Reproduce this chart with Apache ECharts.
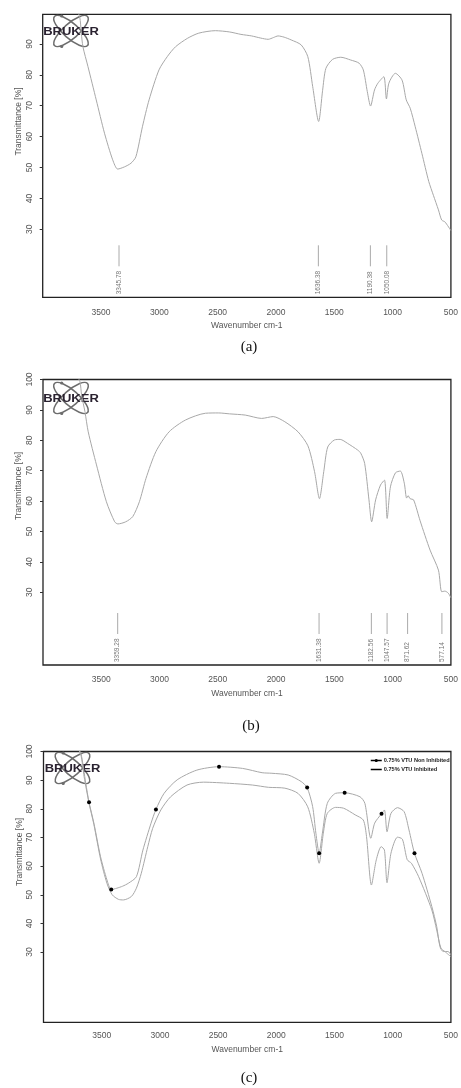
<!DOCTYPE html>
<html><head><meta charset="utf-8">
<script src="https://cdn.jsdelivr.net/npm/echarts@6/dist/echarts.min.js"></script>
<style>html,body{margin:0;padding:0;background:#fff}#c{width:461px;height:1088px}</style>
</head><body><div id="c"></div>
<script>
// ---- data ----
const xTickLabels = [3500, 3000, 2500, 2000, 1500, 1000, 500];
const yTickLabelsA = [30, 40, 50, 60, 70, 80, 90];
const yTickLabelsBC = [30, 40, 50, 60, 70, 80, 90, 100];

const spectrumA = [[3720,102],[3683,98.8],[3669,93.5],[3655,89.1],[3612,82.7],[3541,71.9],[3470,61.1],[3400,52.5],[3357,49.5],[3300,50.2],[3243,51.4],[3201,53.5],[3145,63.2],[3088,71.9],[3003,81.6],[2930,86],[2861,89.1],[2760,91.8],[2662,93.5],[2520,94.3],[2400,93.9],[2300,93.1],[2209,92.6],[2130,91.9],[2067,91.5],[2020,92.1],[1982,92.6],[1930,92.2],[1869,91.3],[1784,89.7],[1727,85.9],[1685,76.2],[1634,64.9],[1600,75],[1572,82.1],[1515,85],[1444,85.7],[1359,84.8],[1288,83.8],[1251,81.6],[1217,74.6],[1189,69.9],[1155,75.1],[1126,77.3],[1075,79.4],[1053,72.2],[1032,77.3],[976,80.5],[919,78.3],[883,71.9],[849,69.2],[806,63.2],[749,54.6],[690,45.5],[650,41],[607,36.3],[579,33],[551,32.4],[500,29.6]];

const spectrumB = [[3720,102],[3683,99.3],[3669,94.9],[3640,89.4],[3612,82.8],[3541,71.9],[3456,59.8],[3385,53.2],[3357,52.5],[3290,53.2],[3230,54.9],[3173,59.8],[3116,67.5],[3031,76.3],[2918,82.8],[2776,86.7],[2606,88.9],[2492,89.0],[2400,88.7],[2265,88.3],[2124,87.2],[2025,87.8],[1925,86.1],[1812,82.8],[1727,78.2],[1670,69.7],[1628,60.8],[1591,69.7],[1557,77.8],[1500,80.1],[1450,80.3],[1387,79],[1300,76.8],[1274,75.8],[1240,72.4],[1203,60.4],[1180,53.2],[1146,60.4],[1104,65.3],[1070,66.9],[1047,54.3],[1019,64.7],[976,69.3],[934,69.9],[900,65.9],[880,61],[868,61.8],[850,60.8],[820,60.4],[764,53.5],[679,43.9],[607,37.3],[579,30.2],[551,30.4],[522,29.7],[500,28.2]];

const peaksA = [3345.78, 1636.38, 1190.38, 1050.08];
const peaksB = [3359.28, 1631.38, 1182.56, 1047.57, 871.62, 577.14];

const nonInhibitedC = [[3720,102],[3679,99.4],[3637,88.9],[3609,82.3],[3567,75],[3510,63.3],[3455,55.2],[3418,51.8],[3370,52.3],[3320,53],[3272,54],[3202,56.3],[3146,65.6],[3076,75],[3034,79.8],[2964,85.4],[2852,90.1],[2683,93.5],[2492,94.7],[2290,94.1],[2122,92.6],[2038,92.4],[1898,91.8],[1786,89.5],[1735,87.4],[1688,80.8],[1660,71.5],[1632,64.5],[1604,71.5],[1562,81.9],[1491,85.4],[1413,85.6],[1281,84.2],[1239,81.9],[1188,69.7],[1155,75],[1096,78.3],[1071,79.6],[1049,72],[1015,78.4],[959,80.4],[902,79],[860,72.6],[813,64.5],[748,57.5],[664,45.9],[622,38.9],[594,31.9],[566,30.2],[524,30.2],[500,29]];

const inhibitedC = [[3720,102],[3680,99],[3651,91.2],[3609,82],[3567,74.5],[3510,62.5],[3455,54],[3410,50],[3356,48.4],[3314,48.2],[3245,49.4],[3202,52.3],[3160,57.5],[3104,66.8],[3062,73.2],[2992,79.6],[2908,84.2],[2767,88.3],[2627,89.3],[2403,88.9],[2206,88.3],[2067,87.5],[1926,87.2],[1814,85.4],[1730,80.7],[1674,71.5],[1632,61],[1596,71.5],[1562,78.4],[1491,80.5],[1421,80.2],[1323,77.9],[1253,76.1],[1225,70.3],[1183,53.4],[1141,62.2],[1099,66.8],[1071,65.6],[1049,54.2],[1015,64.5],[959,70.1],[917,69.4],[875,62.2],[839,61],[777,56.3],[664,44.7],[622,37.7],[586,31.4],[552,30.2],[500,28.4]];

const markerWavenumbersC = [3609, 3418, 3034, 2492, 1735, 1632, 1413, 1096, 813];
const legendNames = ['0.75% VTU Non Inhibited', '0.75% VTU Inhibited'];
const captions = ['(a)', '(b)', '(c)'];
const xName = 'Wavenumber cm-1';
const yName = 'Transmittance [%]';

// ---- layout ----
const SANS = 'Liberation Sans, Arial, sans-serif';
const grids = [
  {left: 42.7, top: 14.3, width: 412.3, height: 283},
  {left: 43, top: 379.5, width: 412.3, height: 285.5},
  {left: 43.5, top: 751.5, width: 416, height: 270.8}
];
const yRanges = [[8, 99.6], [6.1, 100], [5.5, 100]];
const yTicks = [yTickLabelsA, yTickLabelsBC, yTickLabelsBC];
const xLabelMargin = [11, 10.5, 9];
const xNameGap = [24, 24.5, 22.5];

const xAxes = grids.map((g, i) => ({
  type: 'value', gridIndex: i, min: 500, max: 4000, interval: 500, inverse: true,
  axisLine: {show: false}, axisTick: {show: false}, splitLine: {show: false},
  axisLabel: {margin: xLabelMargin[i], fontSize: 8.5, color: '#555', fontFamily: SANS,
    formatter: v => (xTickLabels.indexOf(v) >= 0 ? String(v) : '')},
  name: xName, nameLocation: 'middle', nameGap: xNameGap[i],
  nameTextStyle: {fontSize: 8.5, color: '#555', fontFamily: SANS}
}));
const yAxes = grids.map((g, i) => ({
  type: 'value', gridIndex: i, min: yRanges[i][0], max: yRanges[i][1],
  axisLine: {show: false}, splitLine: {show: false},
  axisTick: {show: true, length: 3, customValues: yTicks[i], lineStyle: {color: '#333'}},
  axisLabel: {customValues: yTicks[i], rotate: 90, margin: 9, fontSize: 8.5, color: '#555', fontFamily: SANS}
}));

function peakRender(params, api) {
  const wn = api.value(0);
  const p = api.coord([wn, 50]);
  const cs = params.coordSys;
  const bottom = cs.y + cs.height;
  return {type: 'group', children: [
    {type: 'line', shape: {x1: p[0], y1: bottom - 52, x2: p[0], y2: bottom - 31}, style: {stroke: '#aaa', lineWidth: 1}},
    {type: 'text', x: p[0], y: bottom - 3, rotation: Math.PI / 2,
      style: {text: wn.toFixed(2), fontSize: 6.5, fontFamily: SANS, fill: '#777', align: 'left', verticalAlign: 'middle'}}
  ]};
}

function logo(cx, cy) {
  return {type: 'group', x: cx, y: cy, z: 100, silent: true, children: [
    {type: 'ellipse', shape: {cx: 0, cy: 0, rx: 22, ry: 7.5}, rotation: 0.72, style: {fill: 'none', stroke: '#6d6d6d', lineWidth: 1.5}},
    {type: 'ellipse', shape: {cx: 0, cy: 0, rx: 22, ry: 7.5}, rotation: -0.72, style: {fill: 'none', stroke: '#6d6d6d', lineWidth: 1.5}},
    {type: 'circle', shape: {cx: -9.3, cy: -15, r: 1.6}, style: {fill: '#6d6d6d'}},
    {type: 'circle', shape: {cx: -9.3, cy: 15.5, r: 1.6}, style: {fill: '#6d6d6d'}},
    {type: 'text', x: 0, y: 1, scaleX: 1.3, style: {text: 'BRUKER', font: 'bold 10px ' + SANS, fill: '#2a2230', align: 'center', verticalAlign: 'middle'}}
  ]};
}
function caption(txt, x, y) {
  return {type: 'text', x: x, y: y, style: {text: txt, font: '15px Liberation Serif, Times New Roman, serif', fill: '#111', align: 'center', verticalAlign: 'middle'}};
}
function yTitle(x, y) {
  return {type: 'text', x: x, y: y, rotation: Math.PI / 2, style: {text: yName, font: '8.5px ' + SANS, fill: '#555', align: 'center', verticalAlign: 'middle'}};
}

const curveStyle = {color: '#a8a8a8', width: 1};
const chart = echarts.init(document.getElementById('c'), null, {renderer: 'canvas'});
chart.setOption({
  animation: false,
  grid: grids.map(g => Object.assign({show: true, borderColor: '#222', borderWidth: 1.3, backgroundColor: 'transparent'}, g)),
  xAxis: xAxes,
  yAxis: yAxes,
  legend: {
    data: [
      {name: legendNames[0]},
      {name: legendNames[1], itemStyle: {color: 'rgba(0,0,0,0)', opacity: 0}}
    ],
    orient: 'vertical', left: 370, top: 757.5, itemWidth: 11, itemHeight: 4, itemGap: 3,
    selectedMode: false, padding: 0,
    textStyle: {fontSize: 5.6, fontWeight: 'bold', color: '#222', fontFamily: SANS, padding: [0, 0, 0, -3]},
    itemStyle: {color: '#000'}, lineStyle: {color: '#000', width: 1.5}
  },
  graphic: [
    logo(71, 31), logo(71, 398), logo(72.5, 768),
    caption(captions[0], 249, 347), caption(captions[1], 251, 726), caption(captions[2], 249, 1078),
    yTitle(19, 121.5), yTitle(19, 486), yTitle(20, 852)
  ],
  series: [
    {type: 'line', xAxisIndex: 0, yAxisIndex: 0, data: spectrumA, symbol: 'none', smooth: 0.25, lineStyle: curveStyle},
    {type: 'custom', xAxisIndex: 0, yAxisIndex: 0, data: peaksA.map(v => [v]), encode: {x: 0}, renderItem: peakRender},
    {type: 'line', xAxisIndex: 1, yAxisIndex: 1, data: spectrumB, symbol: 'none', smooth: 0.25, lineStyle: curveStyle},
    {type: 'custom', xAxisIndex: 1, yAxisIndex: 1, data: peaksB.map(v => [v]), encode: {x: 0}, renderItem: peakRender},
    {type: 'line', name: legendNames[0], xAxisIndex: 2, yAxisIndex: 2, symbol: 'circle', showAllSymbol: true, smooth: 0.25,
      data: nonInhibitedC.map(p => ({value: p, symbolSize: markerWavenumbersC.indexOf(p[0]) >= 0 ? 4 : 0})),
      itemStyle: {color: '#000'}, lineStyle: curveStyle},
    {type: 'line', name: legendNames[1], xAxisIndex: 2, yAxisIndex: 2, symbol: 'none', smooth: 0.25,
      data: inhibitedC, itemStyle: {color: '#000'}, lineStyle: curveStyle}
  ]
});
</script></body></html>
